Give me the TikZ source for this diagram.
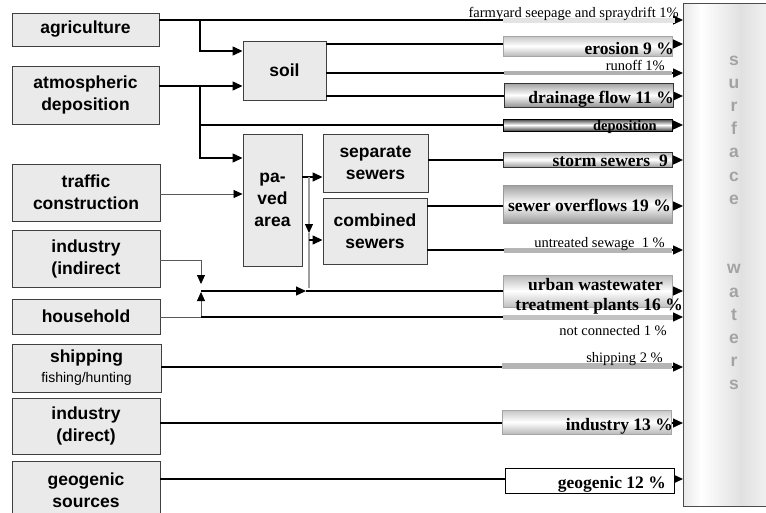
\documentclass[tikz,border=0pt]{standalone}
\usepackage{fontspec}
\setmainfont{Liberation Serif}
\setsansfont{Liberation Sans}
\usetikzlibrary{arrows.meta}
\definecolor{boxgray}{HTML}{EAEAEA}
\pgfdeclarehorizontalshading{swshade}{100bp}{color(0bp)=(gray!18); color(25bp)=(gray!18); color(34bp)=(white); color(54bp)=(gray!24); color(70bp)=(gray!8); color(100bp)=(gray!8)}
\begin{document}
\begin{tikzpicture}[x=1pt,y=-1pt,
  src/.style={draw=black!75, line width=0.9pt, fill=boxgray, align=center,
    font=\sffamily\bfseries\fontsize{17.5}{22}\selectfont, inner sep=0pt},
  bar/.style={draw=gray!70, line width=0.5pt, inner sep=0pt, minimum width=169pt},
  thinbar/.style={draw=none, inner sep=0pt, minimum width=169pt},
  tip/.style={-{Triangle[length=10pt,width=9pt]}},
  arr/.style={line width=1.3pt, tip},
  plain/.style={line width=1.3pt},
  thinarr/.style={line width=0.8pt, draw=black!65, -{Triangle[length=9pt,width=8pt,color=black]}},
  thinline/.style={line width=0.8pt, draw=black!65},
  gline/.style={line width=1.1pt, draw=gray!75},
  lab/.style={font=\fontsize{14.5}{16}\selectfont, inner sep=0pt, anchor=base east},
  blab/.style={font=\bfseries\fontsize{17.5}{20}\selectfont, inner sep=0pt, anchor=base east},
  swl/.style={font=\sffamily\bfseries\fontsize{17.5}{20}\selectfont, text=gray!72, inner sep=0pt, anchor=base}
]
\useasboundingbox (0,0) rectangle (766,512);
\clip (0,0) rectangle (766,512);

% surface waters
\node[draw=black!70, line width=0.9pt, shade, shading=swshade, minimum width=100pt, minimum height=503pt, inner sep=0pt] (sw) at (733,254.5) {};
\foreach \l/\y in {s/65,u/88.2,r/111.4,f/134.6,a/157.8,c/181,e/204.2,w/273.8,a/297,t/320.2,e/343.4,r/366.6,s/389.8}
  \node[swl] at (734,\y) {\l};

% sources
\node[src, minimum width=147pt, minimum height=33pt] (agr) at (85.5,29.5) {agriculture};
\node[src, minimum width=147pt, minimum height=58pt] (atm) at (85.5,95) {atmospheric\\deposition};
\node[src, minimum width=148pt, minimum height=57pt] (traf) at (86,192.5) {traffic\\construction};
\node[src, minimum width=148pt, minimum height=57pt] (indi) at (86,258.5) {industry\\(indirect};
\node[src, minimum width=148pt, minimum height=35pt] (house) at (86,316.5) {household};
\node[src, minimum width=149pt, minimum height=48pt] (ship) at (86.5,368) {shipping\\[-2pt]{\mdseries\fontsize{14}{16}\selectfont fishing/hunting}};
\node[src, minimum width=148pt, minimum height=56pt] (inddir) at (86,426) {industry\\(direct)};
\node[src, minimum width=148pt, minimum height=59pt] (geo) at (86,490.5) {geogenic\\sources};

% intermediate
\node[src, minimum width=83pt, minimum height=59pt] (soil) at (284.5,70.5) {soil};
\node[src, minimum width=59pt, minimum height=132pt] (paved) at (272.5,200) {pa-\\ved\\area};
\node[src, minimum width=105pt, minimum height=58pt] (sep) at (375.5,163) {separate\\sewers};
\node[src, minimum width=104pt, minimum height=66pt] (comb) at (375,231) {combined\\sewers};

% inflow points
\coordinate (iFar) at (683,20);
\coordinate (iEro) at (683,44);
\coordinate (iRun) at (683,73);
\coordinate (iDra) at (683,96);
\coordinate (iDep) at (683,125);
\coordinate (iSto) at (683,160);
\coordinate (iOve) at (683,206);
\coordinate (iUnt) at (683,250);
\coordinate (iUrb) at (683,291);
\coordinate (iNot) at (683,317);
\coordinate (iShi) at (683,367);
\coordinate (iInd) at (683,423);
\coordinate (iGeo) at (683,479);

% junctions
\coordinate (jA) at (200,20);
\coordinate (jA2) at (200,51);
\coordinate (jB) at (200,86);
\coordinate (jC) at (200,125);
\coordinate (jD) at (200,158);
\coordinate (jT) at (243,194);
\coordinate (jP) at (309,177);
\coordinate (jV1) at (309,233);
\coordinate (jV2) at (309,288);
\coordinate (jV3) at (309,240);
\coordinate (jI) at (201,260);
\coordinate (jI2) at (201,284);
\coordinate (jH) at (201,317);
\coordinate (jH2) at (201,292);
\coordinate (jU) at (201,291);
\coordinate (jM) at (306,291);

% connectors
\draw[arr] (agr.east |- iFar) -- (iFar);
\draw[arr] (jA) -- (jA2) -- (soil.west |- jA2);
\draw[arr] (atm.east |- jB) -- (soil.west |- jB);
\draw[plain] (jB) -- (jC);
\draw[arr] (jC) -- (iDep);
\draw[arr] (jC) -- (jD) -- (paved.west |- jD);
\draw[arr] (soil.east |- iEro) -- (iEro);
\draw[arr] (soil.east |- iRun) -- (iRun);
\draw[arr] (soil.east |- iDra) -- (iDra);
\draw[thinarr] (traf.east |- jT) -- (paved.west |- jT);
\draw[arr] (paved.east |- jP) -- (sep.west |- jP);
\draw[gline, -{Triangle[length=9pt,width=8pt,color=black]}] (jP) -- (jV1);
\draw[gline] (jV1) -- (jV2);
\draw[arr] (jV3) -- (comb.west |- jV3);
\draw[arr] (sep.east |- iSto) -- (iSto);
\draw[arr] (comb.east |- iOve) -- (iOve);
\draw[arr] (comb.east |- iUnt) -- (iUnt);
\draw[thinarr] (indi.east |- jI) -- (jI) -- (jI2);
\draw[thinline] (house.east |- jH) -- (jH);
\draw[thinarr] (jH) -- (jH2);
\draw[arr] (jU) -- (jM);
\draw[arr] (jM) -- (iUrb);
\draw[arr] (jH) -- (iNot);
\draw[arr] (ship.east |- iShi) -- (iShi);
\draw[arr] (inddir.east |- iInd) -- (iInd);
\draw[arr] (geo.east |- iGeo) -- (iGeo);

% flow bars
\node[thinbar, fill=gray!22, minimum width=172pt, minimum height=5pt] (bFar) at (589,20.5) {};
\node[bar, minimum height=20pt, top color=gray!45, bottom color=gray!55, middle color=white] (bEro) at (588,46) {};
\node[thinbar, fill=gray!62, minimum width=168pt, minimum height=4.5pt] (bRun) at (588,73) {};
\node[bar, draw=black!80, minimum height=24pt, top color=gray!75, bottom color=gray!85, middle color=white] (bDra) at (588.5,95) {};
\node[bar, draw=black, minimum height=12pt, top color=black!75, bottom color=black!75, middle color=white] (bDep) at (587.5,125) {};
\node[bar, draw=black!80, minimum height=15pt, top color=gray!60, bottom color=gray!75, middle color=white] (bSto) at (587.5,159.5) {};
\node[bar, draw=gray!80, minimum height=38pt, top color=gray!75, bottom color=gray!80, middle color=white] (bOve) at (587.5,204) {};
\node[thinbar, fill=gray!58, minimum width=168pt, minimum height=5pt] (bUnt) at (588,250) {};
\node[bar, minimum height=32pt, top color=gray!55, bottom color=gray!50, middle color=white] (bUrb) at (587.5,291) {};
\node[thinbar, fill=gray!48, minimum width=170pt, minimum height=5pt] (bNot) at (588,317) {};
\node[thinbar, fill=gray!58, minimum width=170pt, minimum height=6pt] (bShi) at (587,366) {};
\node[bar, minimum height=24pt, top color=gray!45, bottom color=gray!55, middle color=white] (bInd) at (587,422) {};
\node[bar, draw=black, line width=0.9pt, fill=white, minimum height=25pt] (bGeo) at (589.5,480.5) {};

% labels
\node[lab] (tFar) at (679,17) {farmyard seepage and spraydrift 1\%};
\node[blab] (tEro) at (674,54) {erosion 9 \%};
\node[lab] (tRun) at (665,70) {runoff 1\%};
\node[blab] (tDra) at (674,103) {drainage flow 11 \%};
\node[blab, font=\bfseries\fontsize{14.5}{16}\selectfont] (tDep) at (657,130) {deposition};
\node[blab] (tSto) at (668,166) {storm sewers\ \ 9};
\node[blab] (tOve) at (671,211) {sewer overflows 19 \%};
\node[lab] (tUnt) at (665,247) {untreated sewage\ \ 1 \%};
\node[blab] (tUrb1) at (663,290) {urban wastewater};
\node[blab] (tUrb2) at (683,310) {treatment plants 16 \%};
\node[lab] (tNot) at (667,335) {not connected 1 \%};
\node[lab] (tShi) at (663,362) {shipping 2 \%};
\node[blab] (tInd) at (673,430) {industry 13 \%};
\node[blab] (tGeo) at (666,488) {geogenic 12 \%};
\end{tikzpicture}
\end{document}
